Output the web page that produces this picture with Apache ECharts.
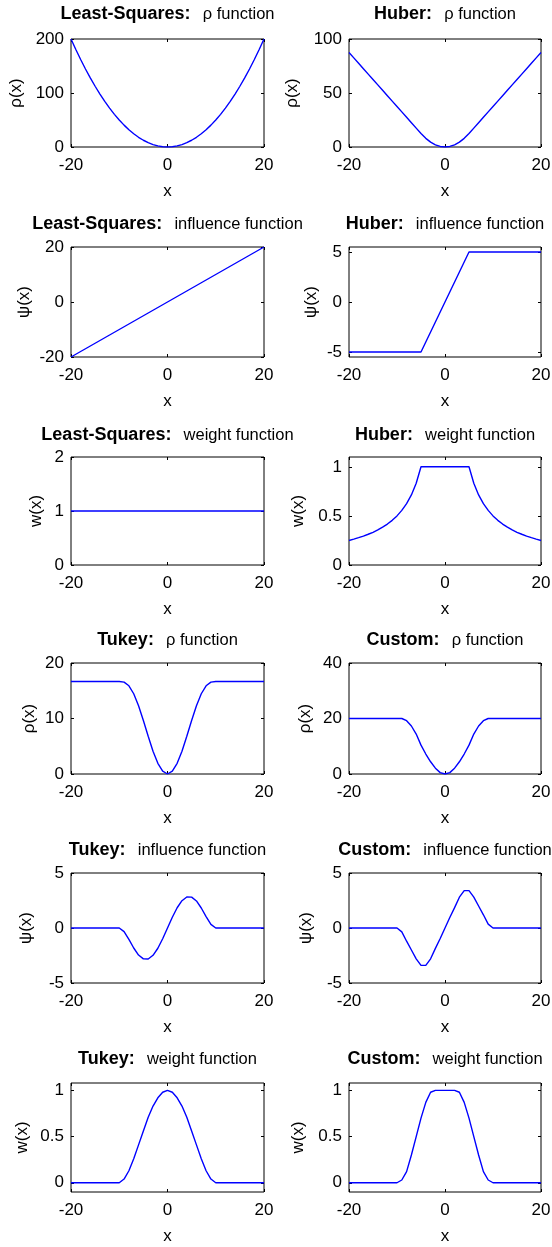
<!DOCTYPE html>
<html><head><meta charset="utf-8">
<script src="https://cdn.jsdelivr.net/npm/echarts@6/dist/echarts.min.js"></script>
<style>html,body{margin:0;padding:0;background:#fff}#c{width:552px;height:1247px}</style>
</head><body><div id="c"></div><script>
// x sample positions
const xs = [-20,-19,-18,-17,-16,-15,-14,-13,-12,-11,-10,-9,-8,-7,-6,-5,-4,-3,-2,-1,0,1,2,3,4,5,6,7,8,9,10,11,12,13,14,15,16,17,18,19,20];
const xTicks = [-20,0,20];

// Least-Squares
const lsRho = [200,180.5,162,144.5,128,112.5,98,84.5,72,60.5,50,40.5,32,24.5,18,12.5,8,4.5,2,0.5,0,0.5,2,4.5,8,12.5,18,24.5,32,40.5,50,60.5,72,84.5,98,112.5,128,144.5,162,180.5,200];
const lsPsi = [-20,-19,-18,-17,-16,-15,-14,-13,-12,-11,-10,-9,-8,-7,-6,-5,-4,-3,-2,-1,0,1,2,3,4,5,6,7,8,9,10,11,12,13,14,15,16,17,18,19,20];
const lsW = [1,1,1,1,1,1,1,1,1,1,1,1,1,1,1,1,1,1,1,1,1,1,1,1,1,1,1,1,1,1,1,1,1,1,1,1,1,1,1,1,1];

// Huber
const huberRho = [87.5,82.5,77.5,72.5,67.5,62.5,57.5,52.5,47.5,42.5,37.5,32.5,27.5,22.5,17.5,12.5,8,4.5,2,0.5,0,0.5,2,4.5,8,12.5,17.5,22.5,27.5,32.5,37.5,42.5,47.5,52.5,57.5,62.5,67.5,72.5,77.5,82.5,87.5];
const huberPsi = [-5,-5,-5,-5,-5,-5,-5,-5,-5,-5,-5,-5,-5,-5,-5,-5,-4,-3,-2,-1,0,1,2,3,4,5,5,5,5,5,5,5,5,5,5,5,5,5,5,5,5];
const huberW = [0.25,0.263,0.278,0.294,0.313,0.333,0.357,0.385,0.417,0.455,0.5,0.556,0.625,0.714,0.833,1,1,1,1,1,1,1,1,1,1,1,0.833,0.714,0.625,0.556,0.5,0.455,0.417,0.385,0.357,0.333,0.313,0.294,0.278,0.263,0.25];

// Tukey
const tukeyRho = [16.67,16.67,16.67,16.67,16.67,16.67,16.67,16.67,16.67,16.67,16.67,16.55,15.89,14.46,12.3,9.64,6.79,4.11,1.92,0.5,0,0.5,1.92,4.11,6.79,9.64,12.3,14.46,15.89,16.55,16.67,16.67,16.67,16.67,16.67,16.67,16.67,16.67,16.67,16.67,16.67];
const tukeyPsi = [0,0,0,0,0,0,0,0,0,0,0,-0.33,-1.04,-1.82,-2.46,-2.81,-2.82,-2.48,-1.84,-0.98,0,0.98,1.84,2.48,2.82,2.81,2.46,1.82,1.04,0.33,0,0,0,0,0,0,0,0,0,0,0];
const tukeyW = [0,0,0,0,0,0,0,0,0,0,0,0.04,0.13,0.26,0.41,0.56,0.71,0.83,0.92,0.98,1,0.98,0.92,0.83,0.71,0.56,0.41,0.26,0.13,0.04,0,0,0,0,0,0,0,0,0,0,0];

// Custom
const customRho = [20,20,20,20,20,20,20,20,20,20,20,20,19.2,17.3,14.4,10.4,7.2,4.4,2.1,0.5,0,0.5,2.1,4.4,7.2,10.4,14.4,17.3,19.2,20,20,20,20,20,20,20,20,20,20,20,20];
const customPsi = [0,0,0,0,0,0,0,0,0,0,0,-0.35,-1.2,-2.0,-2.8,-3.4,-3.4,-2.8,-1.85,-0.95,0,0.95,1.85,2.8,3.4,3.4,2.8,2.0,1.2,0.35,0,0,0,0,0,0,0,0,0,0,0];
const customW = [0,0,0,0,0,0,0,0,0,0,0,0.03,0.12,0.3,0.5,0.7,0.87,0.98,1,1,1,1,1,0.98,0.87,0.7,0.5,0.3,0.12,0.03,0,0,0,0,0,0,0,0,0,0,0];

// y tick labels for axes whose limits are not tick multiples
const yTicksHuberPsi = [-5,0,5];
const yTicksHuberW = [0,0.5,1];
const yTicksBiW = [0,0.5,1];

const panels = [
 {b:'Least-Squares:', n:'  ρ function', yn:'ρ(x)', d:lsRho, min:0, max:200, int:100, col:0, row:0, gap:46.5},
 {b:'Huber:', n:'  ρ function', yn:'ρ(x)', d:huberRho, min:0, max:100, int:50, col:1, row:0, gap:48.5},
 {b:'Least-Squares:', n:'  influence function', yn:'ψ(x)', d:lsPsi, min:-20, max:20, int:20, col:0, row:1, gap:38.5},
 {b:'Huber:', n:'  influence function', yn:'ψ(x)', d:huberPsi, min:-5.5, max:5.5, ticks:yTicksHuberPsi, col:1, row:1, gap:29.5},
 {b:'Least-Squares:', n:'  weight function', yn:'w(x)', d:lsW, min:0, max:2, int:1, col:0, row:2, gap:26.5},
 {b:'Huber:', n:'  weight function', yn:'w(x)', d:huberW, min:0, max:1.1, ticks:yTicksHuberW, col:1, row:2, gap:42.5},
 {b:'Tukey:', n:'  ρ function', yn:'ρ(x)', d:tukeyRho, min:0, max:20, int:10, col:0, row:3, gap:33.5},
 {b:'Custom:', n:'  ρ function', yn:'ρ(x)', d:customRho, min:0, max:40, int:20, col:1, row:3, gap:35.5},
 {b:'Tukey:', n:'  influence function', yn:'ψ(x)', d:tukeyPsi, min:-5, max:5, int:5, col:0, row:4, gap:36.5},
 {b:'Custom:', n:'  influence function', yn:'ψ(x)', d:customPsi, min:-5, max:5, int:5, col:1, row:4, gap:34.5},
 {b:'Tukey:', n:'  weight function', yn:'w(x)', d:tukeyW, min:-0.1, max:1.08, ticks:yTicksBiW, col:0, row:5, gap:40.5},
 {b:'Custom:', n:'  weight function', yn:'w(x)', d:customW, min:-0.1, max:1.08, ticks:yTicksBiW, col:1, row:5, gap:42.5}
];

const FONT = '"Liberation Sans", Arial, sans-serif';
const colLeft = [71, 349], colWidth = [193, 192];
const rowTop = [39, 247, 457, 663, 873, 1083], rowH = [108, 110, 108, 111, 110, 109];
const titleTop = [5, 215, 426, 631, 841, 1050];

const grid = [], xAxis = [], yAxis = [], series = [], title = [];
panels.forEach((p, i) => {
  const L = colLeft[p.col], T = rowTop[p.row], W = colWidth[p.col], H = rowH[p.row];
  grid.push({left: L, top: T, width: W, height: H, show: true, borderColor: '#000', borderWidth: 1,
    backgroundColor: '#fff', containLabel: false, outerBoundsMode: 'none'});
  const tick = {show: true, inside: true, length: 3, lineStyle: {color: '#000', width: 1}};
  const txt = {color: '#000', fontSize: 17, fontFamily: FONT};
  xAxis.push({type: 'value', gridIndex: i, min: -20, max: 20, interval: 20, position: 'bottom',
    axisLine: {show: false, onZero: false}, axisTick: tick,
    axisLabel: Object.assign({margin: 10}, txt), splitLine: {show: false},
    name: 'x', nameLocation: 'middle', nameGap: 36, nameTextStyle: txt});
  xAxis.push({type: 'value', gridIndex: i, min: -20, max: 20, interval: 20, position: 'top',
    axisLine: {show: false, onZero: false}, axisTick: tick, axisLabel: {show: false}, splitLine: {show: false}});
  const yTick = Object.assign({}, tick);
  const yLab = Object.assign({margin: 7}, txt);
  const base = {type: 'value', gridIndex: i, min: p.min, max: p.max, splitLine: {show: false},
    axisLine: {show: false, onZero: false}};
  if (p.ticks) { yTick.customValues = p.ticks; yLab.customValues = p.ticks; }
  else base.interval = p.int;
  yAxis.push(Object.assign({}, base, {position: 'left', axisTick: yTick, axisLabel: yLab,
    name: p.yn, nameLocation: 'middle', nameGap: p.gap, nameTextStyle: txt}));
  yAxis.push(Object.assign({}, base, {position: 'right', axisTick: yTick, axisLabel: {show: false}}));
  series.push({type: 'line', xAxisIndex: 2 * i, yAxisIndex: 2 * i,
    data: xs.map((x, k) => [x, p.d[k]]), showSymbol: false, symbol: 'none',
    lineStyle: {color: '#0000ff', width: 1.4}, animation: false, silent: true});
  title.push({text: '{b|' + p.b + '}{n|' + p.n + '}', left: L + W / 2, top: titleTop[p.row],
    textAlign: 'center', padding: 0,
    textStyle: {rich: {
      b: {fontFamily: FONT, fontWeight: 'bold', fontSize: 18, color: '#000', padding: [0, 3, 0, 0]},
      n: {fontFamily: FONT, fontWeight: 'normal', fontSize: 16.5, color: '#000'}
    }}});
});

const chart = echarts.init(document.getElementById('c'), null, {renderer: 'canvas'});
chart.setOption({animation: false, backgroundColor: '#fff', title, grid, xAxis, yAxis, series});
</script></body></html>
